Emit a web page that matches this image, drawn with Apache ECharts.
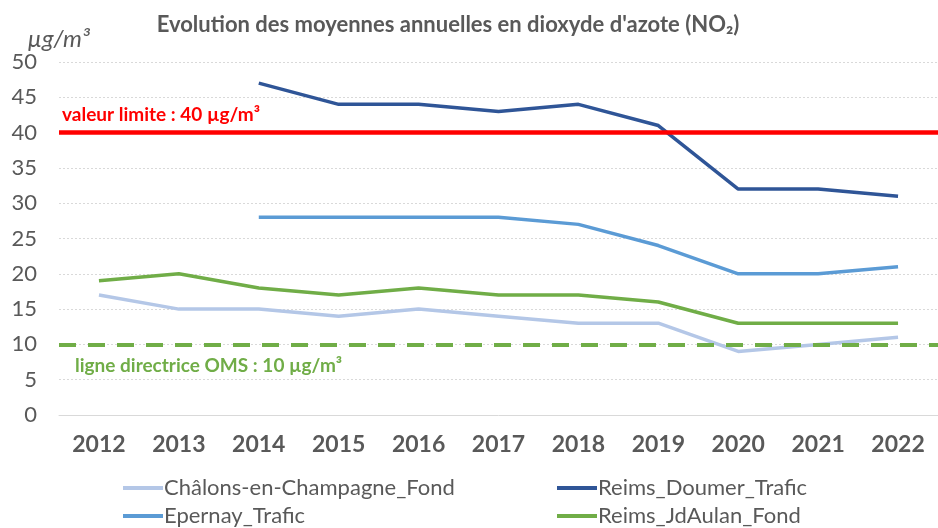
<!DOCTYPE html>
<html>
<head>
<meta charset="utf-8">
<script src="https://cdn.jsdelivr.net/npm/echarts@6/dist/echarts.min.js"></script>
<style>
  html, body { margin: 0; padding: 0; background: #fff; }
  #chart { width: 938px; height: 528px; }
</style>
</head>
<body>
<div id="chart"></div>
<script>
const years = ['2012', '2013', '2014', '2015', '2016', '2017', '2018', '2019', '2020', '2021', '2022']
const chalonsFond = [17, 15, 15, 14, 15, 14, 13, 13, 9, 10, 11]
const reimsDoumer = [null, null, 47, 44, 44, 43, 44, 41, 32, 32, 31]
const epernayTrafic = [null, null, 28, 28, 28, 28, 27, 24, 20, 20, 21]
const reimsJdAulan = [19, 20, 18, 17, 18, 17, 17, 16, 13, 13, 13]
const valeurLimite = 40
const ligneOMS = 10

const chart = echarts.init(document.getElementById('chart'))
const font = 'Lato, "Open Sans", sans-serif'

function lineSeries(name, data, color) {
  return {
    name: name,
    type: 'line',
    data: data,
    symbol: 'none',
    lineStyle: { color: color, width: 3.5 },
    itemStyle: { color: color },
    z: 3
  }
}

const legendBase = {
  orient: 'vertical',
  top: 472,
  height: 60,
  icon: 'rect',
  itemWidth: 40,
  itemHeight: 4,
  itemGap: 6,
  textStyle: { fontFamily: font, fontSize: 22, lineHeight: 22, color: '#595959', padding: [0, 0, 0, -4] }
}

const option = {
  animation: false,
  title: {
    text: "Evolution des moyennes annuelles en dioxyde d'azote (NO₂)",
    left: 443,
    top: 9,
    textAlign: 'center',
    textStyle: { fontFamily: font, fontSize: 22, fontWeight: 'bold', color: '#595959' }
  },
  grid: { left: 59, right: 0, top: 62, bottom: 113 },
  xAxis: {
    type: 'category',
    data: years,
    boundaryGap: true,
    axisLine: { lineStyle: { color: '#d9d9d9', width: 1 } },
    axisTick: { show: false },
    axisLabel: { fontFamily: font, fontSize: 23, fontWeight: 'bold', color: '#595959', margin: 18 }
  },
  yAxis: {
    type: 'value',
    min: 0,
    max: 50,
    interval: 5,
    name: 'µg/m³',
    nameLocation: 'end',
    nameGap: 10,
    nameTextStyle: { fontFamily: font, fontSize: 24, fontStyle: 'italic', color: '#595959', align: 'right', padding: [0, -31, 0, 0] },
    axisLine: { show: false },
    axisTick: { show: false },
    axisLabel: { fontFamily: font, fontSize: 22, color: '#595959', margin: 22 },
    splitLine: { lineStyle: { color: '#d9d9d9', type: [2, 2], width: 1 } }
  },
  legend: [
    Object.assign({}, legendBase, { data: ['Châlons-en-Champagne_Fond', 'Epernay_Trafic'], left: 118 }),
    Object.assign({}, legendBase, { data: ['Reims_Doumer_Trafic', 'Reims_JdAulan_Fond'], left: 552 })
  ],
  series: [
    lineSeries('Châlons-en-Champagne_Fond', chalonsFond, '#b4c7e7'),
    lineSeries('Reims_Doumer_Trafic', reimsDoumer, '#2f5597'),
    lineSeries('Epernay_Trafic', epernayTrafic, '#5b9bd5'),
    Object.assign(lineSeries('Reims_JdAulan_Fond', reimsJdAulan, '#70ad47'), {
      markLine: {
        silent: true,
        symbol: 'none',
        data: [
          {
            yAxis: valeurLimite,
            lineStyle: { color: '#ff0000', width: 4.5, type: 'solid' },
            label: {
              show: true,
              position: 'insideStartTop',
              formatter: 'valeur limite : 40 µg/m³',
              fontFamily: font,
              fontSize: 19,
              fontWeight: 'bold',
              color: '#ff0000',
              distance: [3, 8]
            }
          },
          {
            yAxis: ligneOMS,
            lineStyle: { color: '#70ad47', width: 4, type: [17, 12] },
            label: {
              show: true,
              position: 'insideStartBottom',
              formatter: 'ligne directrice OMS : 10 µg/m³',
              fontFamily: font,
              fontSize: 19,
              fontWeight: 'bold',
              color: '#70ad47',
              distance: [16, 12]
            }
          }
        ]
      }
    })
  ]
}

chart.setOption(option)
</script>
</body>
</html>
